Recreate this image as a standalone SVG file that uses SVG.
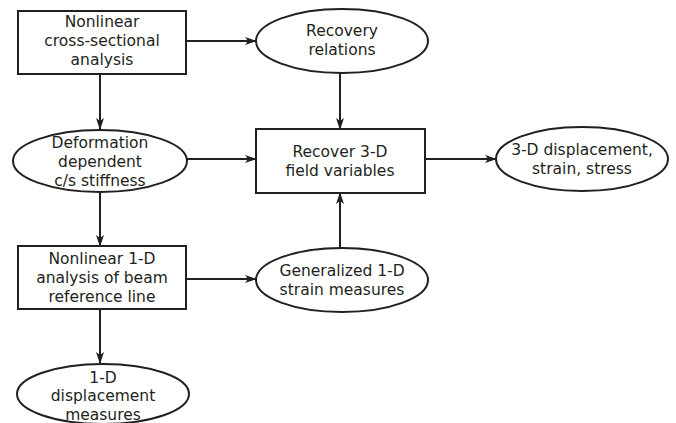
<svg xmlns="http://www.w3.org/2000/svg" width="676" height="423" viewBox="0 0 676 423">
<style>
.n{fill:#fff;stroke:#231f20;stroke-width:2}
.t{font-family:"DejaVu Sans",sans-serif;font-size:15.5px;fill:#231f20;text-anchor:middle}
.c{stroke:#231f20;stroke-width:2;fill:none;marker-end:url(#a)}
</style>
<defs>
<marker id="a" markerUnits="userSpaceOnUse" markerWidth="12" markerHeight="10" viewBox="0 0 12 10" refX="11" refY="5" orient="auto">
<path d="M0,1 L12,5 L0,9 L3,5 z" fill="#231f20"/>
</marker>
</defs>
<rect width="676" height="423" fill="#fff"/>
<g id="connectors">
<line class="c" x1="186" y1="41" x2="256" y2="41"/>
<line class="c" x1="100" y1="74" x2="100" y2="129"/>
<line class="c" x1="340" y1="73" x2="340" y2="129"/>
<line class="c" x1="186" y1="159" x2="256" y2="159"/>
<line class="c" x1="425" y1="159" x2="496" y2="159"/>
<line class="c" x1="100" y1="192" x2="100" y2="246"/>
<line class="c" x1="186" y1="279" x2="256" y2="279"/>
<line class="c" x1="340" y1="248" x2="340" y2="193"/>
<line class="c" x1="100" y1="309" x2="100" y2="363"/>
</g>
<g id="n1">
<rect class="n" x="18" y="11" width="168" height="63"/>
<text class="t" x="102" y="27">Nonlinear</text>
<text class="t" x="102" y="46">cross-sectional</text>
<text class="t" x="102" y="65">analysis</text>
</g>
<g id="n2">
<ellipse class="n" cx="342" cy="41" rx="86" ry="32"/>
<text class="t" x="342" y="36">Recovery</text>
<text class="t" x="342" y="55">relations</text>
</g>
<g id="n3">
<ellipse class="n" cx="100" cy="161" rx="87" ry="31"/>
<text class="t" x="100" y="148">Deformation</text>
<text class="t" x="100" y="167">dependent</text>
<text class="t" x="100" y="186">c/s stiffness</text>
</g>
<g id="n4">
<rect class="n" x="256" y="129" width="169" height="64"/>
<text class="t" x="340" y="157">Recover 3-D</text>
<text class="t" x="340" y="176">field variables</text>
</g>
<g id="n5">
<ellipse class="n" cx="582" cy="159" rx="86" ry="32"/>
<text class="t" x="582" y="155">3-D displacement,</text>
<text class="t" x="582" y="174">strain, stress</text>
</g>
<g id="n6">
<rect class="n" x="18" y="246" width="168" height="63"/>
<text class="t" x="102" y="264">Nonlinear 1-D</text>
<text class="t" x="102" y="283">analysis of beam</text>
<text class="t" x="102" y="302">reference line</text>
</g>
<g id="n7">
<ellipse class="n" cx="342" cy="280" rx="86" ry="32"/>
<text class="t" x="342" y="276">Generalized 1-D</text>
<text class="t" x="342" y="295">strain measures</text>
</g>
<g id="n8">
<ellipse class="n" cx="103" cy="394" rx="86" ry="30"/>
<text class="t" x="103" y="383">1-D</text>
<text class="t" x="103" y="401">displacement</text>
<text class="t" x="103" y="420">measures</text>
</g>
</svg>
